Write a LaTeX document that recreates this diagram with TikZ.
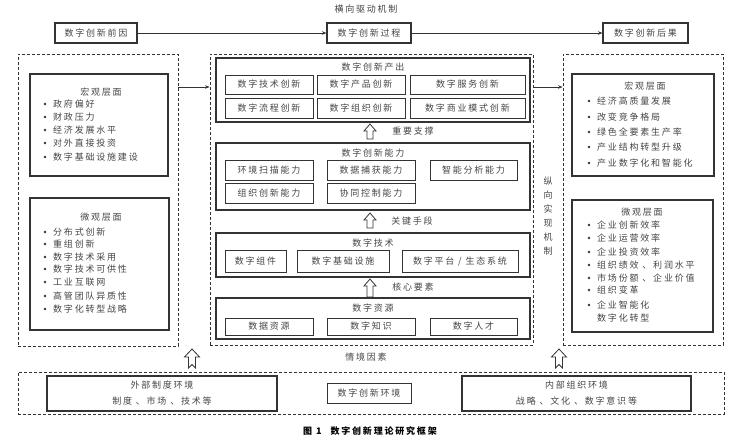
\documentclass[tikz,border=0pt]{standalone}
\usepackage{fontspec}
\newfontfamily\cjk{Noto Sans CJK SC}[LetterSpace=20]
\usetikzlibrary{arrows.meta}
\definecolor{ink}{HTML}{333333}
\definecolor{txt}{HTML}{444444}
\newcommand\bx[7]{\pgfmathsetmacro\bxw{#5-#3}\pgfmathsetmacro\bxh{#6-#4}\node[#1, minimum width=\bxw pt, minimum height=\bxh pt] (#2) at ({(#3+#5)/2},{(#4+#6)/2}) {#7};}
\newcommand\hup[3]{\draw[hollow] ({#1-3},#3) -- ({#1-3},{#2+7}) -- ({#1-6},{#2+7}) -- (#1,#2) -- ({#1+6},{#2+7}) -- ({#1+3},{#2+7}) -- ({#1+3},#3) -- cycle;}
\newcommand\hupn[3]{\draw[hollow] ({#1-3.5},#3) -- ({#1-3.5},{#2+8}) -- ({#1-7.5},{#2+8}) -- (#1,#2) -- ({#1+7.5},{#2+8}) -- ({#1+3.5},{#2+8}) -- ({#1+3.5},#3) -- (#1,{#3-3.5}) -- cycle;}
\begin{document}
\begin{tikzpicture}[x=1pt,y=-1pt,
  every node/.style={font=\cjk\fontsize{9}{11}\selectfont, text=txt},
  sbox/.style={draw=ink, line width=1.1pt, inner sep=0pt},
  subbox/.style={draw=ink, line width=0.9pt, inner sep=0pt},
  dbox/.style={draw=ink, line width=0.8pt, dash pattern=on 3pt off 2pt, inner sep=0pt},
  item/.style={anchor=west, inner sep=0pt},
  conn/.style={draw=ink, line width=0.8pt, -{Stealth[length=4.5pt,width=3.5pt]}},
  hollow/.style={draw=ink, line width=0.8pt, fill=white, line join=miter},
  twoline/.style={align=center, font=\cjk\fontsize{9}{16}\selectfont},
]
\path[use as bounding box] (0,0) rectangle (732,439);

% top row
\node[inner sep=0pt] (htitle) at (366,9) {横向驱动机制};
\bx{sbox}{pre}{55}{23}{137}{43}{数字创新前因}
\bx{sbox}{proc}{327}{23}{411}{43}{数字创新过程}
\bx{sbox}{post}{603}{23}{688}{43}{数字创新后果}
\draw[conn] (pre.east) -- (proc.west);
\draw[conn] (proc.east) -- (post.west);

% dashed columns
\bx{dbox}{ldash}{18}{54}{178}{346}{}
\bx{dbox}{mdash}{210}{54}{533}{345}{}
\bx{dbox}{rdash}{563}{54}{723}{345}{}
\coordinate (h87) at (0,87);
\draw[conn] (ldash.east |- h87) -- (mdash.west |- h87);
\draw[conn] (mdash.east |- h87) -- (rdash.west |- h87);

% left column
\bx{sbox}{lmac}{30}{74}{168}{176}{}
\node[inner sep=0pt] (lmacT) at (101,92) {宏观层面};
\foreach \yy/\t [count=\i] in {104/政府偏好,117/财政压力,130/经济发展水平,143/对外直接投资,157/数字基础设施建设}{
  \fill[ink] (45,\yy) circle (1.3pt);
  \node[item] (lma\i) at (53,\yy) {\t};
}
\bx{sbox}{lmic}{30}{198}{169}{330}{}
\node[inner sep=0pt] (lmicT) at (101,217) {微观层面};
\foreach \yy/\t [count=\i] in {232/分布式创新,244/重组创新,257/数字技术采用,269/数字技术可供性,282/工业互联网,296/高管团队异质性,309/数字化转型战略}{
  \fill[ink] (45,\yy) circle (1.3pt);
  \node[item] (lmi\i) at (53,\yy) {\t};
}

% right column
\bx{sbox}{rmac}{572}{74}{714}{176}{}
\node[inner sep=0pt] (rmacT) at (645,86) {宏观层面};
\foreach \yy/\t [count=\i] in {101/经济高质量发展,117/改变竞争格局,132/绿色全要素生产率,147/产业结构转型升级,163/产业数字化和智能化}{
  \fill[ink] (589,\yy) circle (1.3pt);
  \node[item] (rma\i) at (597,\yy) {\t};
}
\bx{sbox}{rmic}{572}{200}{713}{332}{}
\node[inner sep=0pt] (rmicT) at (642,212) {微观层面};
\foreach \yy/\t [count=\i] in {225/企业创新效率,238/企业运营效率,252/企业投资效率,265/组织绩效 、利润水平,278/市场份额 、企业价值,290/组织变革,305/企业智能化 /}{
  \fill[ink] (589,\yy) circle (1.3pt);
  \node[item] (rmi\i) at (597,\yy) {\t};
}
\node[item] (rmi8) at (597,318) {数字化转型};

% vertical label
\node[align=center, inner sep=0pt, font=\cjk\fontsize{9}{14}\selectfont] (vlab) at (548,216) {纵\\向\\实\\现\\机\\制};

% middle: output
\bx{sbox}{out}{216}{58}{530}{122}{}
\node[inner sep=0pt] (outT) at (373,67) {数字创新产出};
\bx{subbox}{o1}{225}{75}{313}{94}{数字技术创新}
\bx{subbox}{o2}{317}{75}{405}{94}{数字产品创新}
\bx{subbox}{o3}{410}{75}{525}{94}{数字服务创新}
\bx{subbox}{o4}{225}{98}{313}{118}{数字流程创新}
\bx{subbox}{o5}{317}{98}{405}{118}{数字组织创新}
\bx{subbox}{o6}{410}{98}{525}{118}{数字商业模式创新}

\hup{370}{124}{139}
\node[inner sep=0pt] (a1) at (413,131) {重要支撑};

% capability
\bx{sbox}{cap}{216}{143}{530}{210}{}
\node[inner sep=0pt] (capT) at (373,153) {数字创新能力};
\bx{subbox}{c1}{225}{160}{313}{180}{环境扫描能力}
\bx{subbox}{c2}{327}{160}{415}{180}{数据捕获能力}
\bx{subbox}{c3}{430}{160}{517}{180}{智能分析能力}
\bx{subbox}{c4}{225}{183}{313}{203}{组织创新能力}
\bx{subbox}{c5}{327}{183}{415}{203}{协同控制能力}

\hup{370}{213}{228}
\node[inner sep=0pt] (a2) at (412,221) {关键手段};

% technology
\bx{sbox}{tech}{216}{233}{530}{277}{}
\node[inner sep=0pt] (techT) at (373,243) {数字技术};
\bx{subbox}{t1}{225}{250}{286}{272}{数字组件}
\bx{subbox}{t2}{297}{250}{389}{272}{数字基础设施}
\bx{subbox}{t3}{402}{250}{518}{272}{数字平台 / 生态系统}

\hup{370}{279}{297}
\node[inner sep=0pt] (a3) at (413,287) {核心要素};

% resources
\bx{sbox}{res}{216}{298}{530}{339}{}
\node[inner sep=0pt] (resT) at (373,308) {数字资源};
\bx{subbox}{r1}{225}{318}{313}{335}{数据资源}
\bx{subbox}{r2}{327}{318}{415}{335}{数字知识}
\bx{subbox}{r3}{430}{318}{517}{335}{数字人才}

% bottom
\node[inner sep=0pt] (ctx) at (366,357) {情境因素};
\hupn{192}{349}{368}
\hupn{559}{349}{368}
\bx{dbox}{bdash}{18}{372}{724}{414}{}
\bx{sbox,twoline}{ext}{47}{376}{277}{411}{外部制度环境\\制度 、市场 、技术等}
\bx{subbox}{env}{327}{383}{411}{403}{数字创新环境}
\bx{sbox,twoline}{int}{462}{376}{691}{411}{内部组织环境\\战略 、文化 、数字意识等}

% caption
\node[inner sep=0pt, font=\cjk\bfseries\fontsize{9}{11}\selectfont, text=black] (cap1) at (370,431) {图 1\quad 数字创新理论研究框架};
\end{tikzpicture}
\end{document}
